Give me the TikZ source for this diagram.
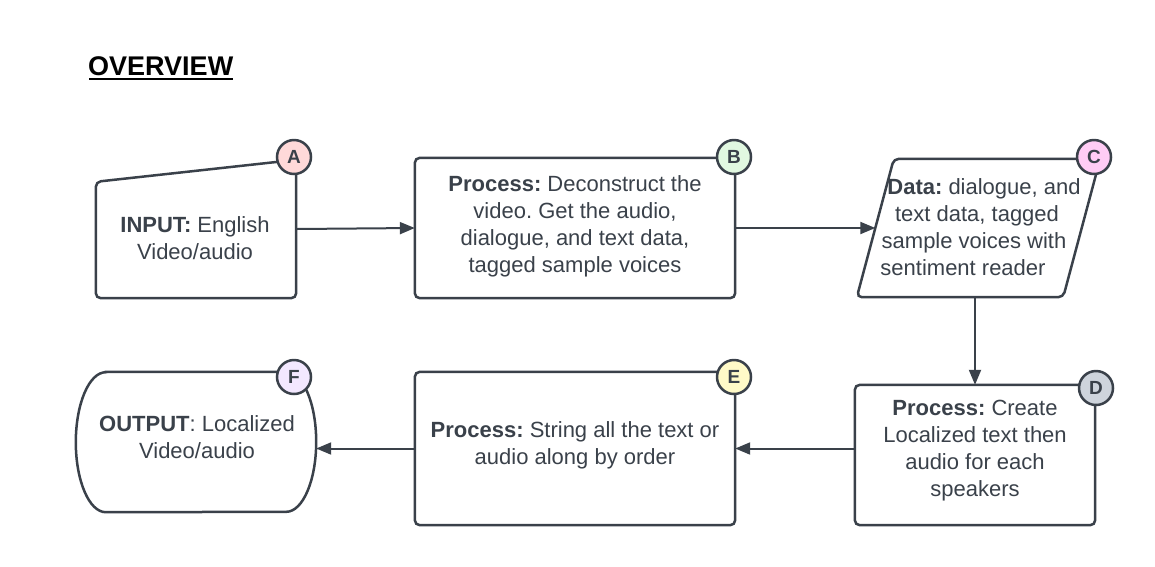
\documentclass[tikz,border=0pt]{standalone}
\usepackage{fontspec}
\setmainfont{Liberation Sans}
\usetikzlibrary{arrows.meta,calc}
\definecolor{ink}{HTML}{3A414A}
\definecolor{fillA}{HTML}{FFD9D9}
\definecolor{fillB}{HTML}{E1F8E1}
\definecolor{fillC}{HTML}{FFCCF5}
\definecolor{fillD}{HTML}{CED4DC}
\definecolor{fillE}{HTML}{FFFAC8}
\definecolor{fillF}{HTML}{F3E8FF}
\frenchspacing
\begin{document}
\begin{tikzpicture}[x=1pt,y=-1pt,
  frame/.style={draw=none,rectangle,inner sep=0pt},
  outline/.style={draw=ink,line width=2.5pt,rounded corners=5pt,fill=white},
  txt/.style={text=ink,align=center,inner sep=0pt,font=\fontsize{22}{27}\selectfont},
  badge/.style={circle,draw=ink,line width=2.5pt,minimum size=34pt,inner sep=0pt,
    text=ink,font=\fontsize{19}{20}\selectfont\bfseries},
  link/.style={draw=ink,line width=2pt,-{Triangle[length=15pt,width=12pt]}}]
\useasboundingbox (0,0) rectangle (1155,566);
\fill[white] (0,0) rectangle (1155,566);

% title
\node[anchor=west,inner sep=0pt,font=\fontsize{27}{30}\selectfont\bfseries] (title) at (88,66) {OVERVIEW};
\draw[line width=2pt] ($(title.south west)+(1,3)$) -- ($(title.south east)+(0,3)$);

% frames that carry the anchors of each step
\node[frame,minimum width=200pt,minimum height=138pt] (a) at (196,229) {};
\node[frame,minimum width=320pt,minimum height=140pt] (b) at (575,228) {};
\node[frame,minimum width=243pt,minimum height=138pt] (c) at (978.5,228) {};
\node[frame,minimum width=240pt,minimum height=140pt] (d) at (975,455) {};
\node[frame,minimum width=320pt,minimum height=153pt] (e) at (575,448.5) {};
\node[frame,minimum width=240pt,minimum height=140pt] (f) at (196,442) {};

% A: manual input
\draw[outline] ($(a.north west)+(0,22)$) -- (a.north east) -- (a.south east) -- (a.south west) -- cycle;
% B, D, E: processes
\draw[outline] (b.north west) rectangle (b.south east);
\draw[outline] (d.north west) rectangle (d.south east);
\draw[outline] (e.north west) rectangle (e.south east);
% C: data parallelogram
\draw[outline] ($(c.north west)+(37,0)$) -- (c.north east) -- ($(c.south east)+(-37,0)$) -- (c.south west) -- cycle;
\coordinate (cin) at ($(c.west)+(18.5,0)$);
% F: terminal
\draw[outline,rounded corners=0pt] ($(f.north west)+(30,0)$) -- ($(f.north east)+(-30,0)$)
  arc[start angle=-90,end angle=90,x radius=30,y radius=70]
  -- ($(f.south west)+(30,0)$)
  arc[start angle=90,end angle=270,x radius=30,y radius=70] -- cycle;

% texts
\node[txt] (ta) at (195,238.5) {\textbf{INPUT:} English\\Video/audio};
\node[txt] (tb) at (575,226) {\textbf{Process:} Deconstruct the\\video. Get the audio,\\dialogue, and text data,\\tagged sample voices};
\node[txt] (tc) at (974,227) {\hspace*{20pt}\textbf{Data:} dialogue, and\\\hspace*{6pt}text data, tagged\\sample voices with\hspace*{6pt}\\sentiment reader\hspace*{22pt}};
\node[txt] (td) at (975,451) {\textbf{Process:} Create\\Localized text then\\audio for each\\speakers};
\node[txt] (te) at (575,445.5) {\textbf{Process:} String all the text or\\audio along by order};
\node[txt] (tf) at (197,437.5) {\textbf{OUTPUT}: Localized\\Video/audio};

% connectors
\draw[link] (a.east) -- (b.west);
\draw[link] (b.east) -- (cin);
\draw[link] (d.north |- c.south) -- (d.north);
\draw[link] (d.west |- e.east) -- (e.east);
\draw[link] (e.west) -- (f.east |- e.west);

% step badges
\node[badge,fill=fillA] (ba) at (294,157) {A};
\node[badge,fill=fillB] (bb) at (734,157) {B};
\node[badge,fill=fillC] (bc) at (1094,157) {C};
\node[badge,fill=fillD] (bd) at (1096,388) {D};
\node[badge,fill=fillE] (be) at (734,377) {E};
\node[badge,fill=fillF] (bf) at (294,377) {F};
\end{tikzpicture}
\end{document}
